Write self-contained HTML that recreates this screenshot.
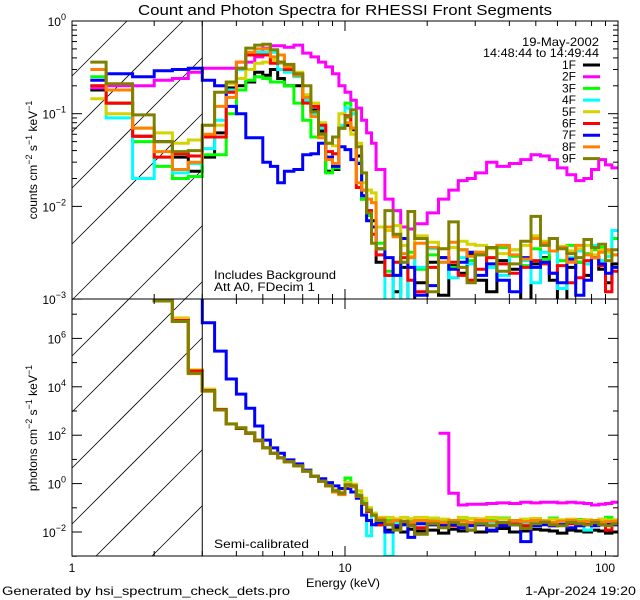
<!DOCTYPE html>
<html><head><meta charset="utf-8"><style>
html,body{margin:0;padding:0;background:#fff;}
svg{display:block;font-family:"Liberation Sans",sans-serif;}
</style></head><body>
<svg id="chart" width="640" height="600" viewBox="0 0 640 600" xmlns="http://www.w3.org/2000/svg">
<defs>
<clipPath id="clipTop"><rect x="72" y="21" width="546" height="278"/></clipPath>
<clipPath id="clipBot"><rect x="72" y="299" width="546" height="257"/></clipPath>
</defs>
<rect width="640" height="600" fill="#fff"/>
<text x="345" y="15" font-size="15" text-anchor="middle" textLength="414" lengthAdjust="spacingAndGlyphs">Count and Photon Spectra for RHESSI Front Segments</text>
<g id="hatch"></g>
<g id="series-top" clip-path="url(#clipTop)"></g>
<g id="series-bot" clip-path="url(#clipBot)"></g>
<g id="axes"></g>
<text x="599" y="46" font-size="12" text-anchor="end" textLength="77" lengthAdjust="spacingAndGlyphs">19-May-2002</text>
<text x="599" y="57" font-size="12" text-anchor="end" textLength="116" lengthAdjust="spacingAndGlyphs">14:48:44 to 14:49:44</text>
<g id="legend"></g>
<text x="214" y="279" font-size="12" textLength="122" lengthAdjust="spacingAndGlyphs">Includes Background</text>
<text x="214" y="291" font-size="12" textLength="101" lengthAdjust="spacingAndGlyphs">Att A0, FDecim 1</text>
<text x="214" y="548" font-size="12" textLength="95" lengthAdjust="spacingAndGlyphs">Semi-calibrated</text>
<text x="343" y="587" font-size="12" text-anchor="middle" textLength="74" lengthAdjust="spacingAndGlyphs">Energy (keV)</text>
<text x="2" y="595" font-size="12" textLength="288" lengthAdjust="spacingAndGlyphs">Generated by hsi_spectrum_check_dets.pro</text>
<text x="636" y="595" font-size="12" text-anchor="end" textLength="111" lengthAdjust="spacingAndGlyphs">1-Apr-2024 19:20</text>
<text transform="translate(37,160) rotate(-90)" font-size="12" text-anchor="middle">counts cm<tspan dy="-5" font-size="9">−2</tspan><tspan dy="5"> s</tspan><tspan dy="-5" font-size="9">−1</tspan><tspan dy="5"> keV</tspan><tspan dy="-5" font-size="9">−1</tspan></text>
<text transform="translate(37,428) rotate(-90)" font-size="12" text-anchor="middle">photons cm<tspan dy="-5" font-size="9">−2</tspan><tspan dy="5"> s</tspan><tspan dy="-5" font-size="9">−1</tspan><tspan dy="5"> keV</tspan><tspan dy="-5" font-size="9">−1</tspan></text>
</svg>
<script>
const edges = [1.167,1.333,1.667,2,2.333,2.667,3,3.33,3.67,4,4.33,4.67,5,5.33,5.67,6,6.5,7,7.5,8,8.5,9,9.5,10,10.5,11,11.5,12,12.5,13,14,15,16,17,18,20,22,24,26,28,30,33,36,40,44,48,52,56,60,65,70,75,80,85,90,95,100];
const detectors = ['1F','2F','3F','4F','5F','6F','7F','8F','9F'];
const colors = ['#000000','#ff00ff','#00ff00','#00ffff','#d4d400','#ff0000','#0000ff','#ff8000','#808000'];
const xTickLabels = ['1','10','100'];
const topTickLabels = ['0','-1','-2','-3'];
const botTickLabels = ['6','4','2','0','-2'];

const c1F = [0.18,0.13,0.057,0.05,0.034,0.024, 0.034,0.062,0.19,0.2,0.22,0.28,0.26,0.3,0.24,0.2,0.2,0.14,0.11,0.065,0.024,0.025,0.07,0.075,0.067,0.035,0.012,0.008,0.007, 0.0025,0.0018,0.0012,0.0022,0.0009,0.0015,0.0025,0.0011,0.0023,0.0019,0.003,0.0016,0.0012,0.0026,0.0021,0.0009,0.0024,0.0028,0.0016,0.0008,0.0022,0.0025,0.0018,0.0028,0.0021,0.0015,0.0024];
const c2F = [0.19,0.2,0.2,0.23,0.24,0.28, 0.31,0.31,0.31,0.36,0.36,0.41,0.51,0.54,0.54,0.52,0.55,0.45,0.41,0.36,0.32,0.27,0.2,0.17,0.14,0.115,0.085,0.062,0.048, 0.025,0.012,0.009,0.006,0.0057,0.0065,0.0085,0.012,0.015,0.019,0.02,0.023,0.03,0.027,0.029,0.032,0.036,0.035,0.032,0.026,0.022,0.019,0.02,0.025,0.032,0.028,0.026];
const c3F = [0.25,0.13,0.05,0.027,0.02,0.021, 0.036,0.036,0.1,0.18,0.23,0.25,0.24,0.22,0.22,0.2,0.13,0.085,0.056,0.06,0.023,0.026,0.07,0.13,0.1,0.03,0.012,0.008,0.006, 0.004,0.002,0.0009,0.0025,0.0032,0.0021,0.003,0.0028,0.0022,0.0034,0.0026,0.0031,0.0024,0.0036,0.0029,0.0023,0.0035,0.0027,0.0033,0.0026,0.0038,0.0025,0.0031,0.0034,0.0036,0.0029,0.0045];
const c4F = [0.2,0.09,0.02,0.034,0.023,0.029, 0.042,0.085,0.18,0.3,0.45,0.46,0.46,0.46,0.3,0.28,0.25,0.14,0.1,0.07,0.034,0.037,0.075,0.115,0.1,0.03,0.013,0.009,0.006, 0.003,0.0008,0.0025,0.0006,0.0028,0.0022,0.0035,0.0025,0.0017,0.0028,0.0024,0.003,0.0022,0.0018,0.0034,0.0026,0.0015,0.0032,0.0045,0.0013,0.0028,0.0033,0.0024,0.0038,0.0026,0.0029,0.0055];
const c5F = [0.145,0.1,0.07,0.062,0.048,0.052, 0.075,0.075,0.21,0.24,0.3,0.35,0.36,0.38,0.35,0.33,0.28,0.16,0.13,0.08,0.048,0.045,0.1,0.09,0.06,0.048,0.018,0.015,0.014, 0.006,0.0055,0.0062,0.0038,0.0029,0.0048,0.0041,0.0035,0.0036,0.0042,0.0039,0.0038,0.0035,0.0031,0.0034,0.0038,0.0048,0.0042,0.0045,0.0037,0.0033,0.0035,0.0038,0.003,0.0034,0.0032,0.003];
const c6F = [0.2,0.13,0.057,0.034,0.037,0.035, 0.056,0.056,0.17,0.31,0.43,0.43,0.43,0.35,0.36,0.3,0.26,0.13,0.12,0.075,0.039,0.037,0.07,0.095,0.07,0.016,0.015,0.009,0.005, 0.003,0.0018,0.0025,0.0028,0.0016,0.0012,0.0022,0.0028,0.0025,0.0018,0.0016,0.0021,0.0028,0.0024,0.0019,0.0022,0.0026,0.0024,0.0019,0.0023,0.0015,0.0017,0.0026,0.0028,0.0023,0.0012,0.002];
const c7F = [0.23,0.27,0.25,0.29,0.3,0.31, 0.23,0.2,0.12,0.1,0.055,0.055,0.03,0.027,0.018,0.024,0.025,0.036,0.037,0.048,0.034,0.027,0.044,0.041,0.032,0.029,0.013,0.007,0.006, 0.0035,0.0028,0.0018,0.0045,0.0022,0.0011,0.0014,0.0028,0.0021,0.0025,0.0032,0.0018,0.0024,0.0016,0.0012,0.0028,0.0022,0.0025,0.0019,0.0015,0.0027,0.0011,0.0016,0.0028,0.0024,0.0019,0.0022];
const c8F = [0.3,0.18,0.07,0.039,0.025,0.03, 0.06,0.12,0.15,0.36,0.46,0.5,0.5,0.41,0.43,0.32,0.26,0.15,0.093,0.055,0.032,0.029,0.07,0.08,0.07,0.018,0.015,0.012,0.011, 0.0035,0.006,0.0047,0.0031,0.0028,0.004,0.0036,0.0025,0.0041,0.0034,0.0029,0.0032,0.0036,0.0038,0.003,0.0027,0.0045,0.004,0.0033,0.0036,0.0025,0.0038,0.003,0.0028,0.0032,0.0034,0.003];
const c9F = [0.36,0.21,0.097,0.05,0.039,0.04, 0.075,0.17,0.22,0.31,0.51,0.55,0.56,0.49,0.36,0.34,0.27,0.2,0.105,0.06,0.048,0.056,0.07,0.093,0.11,0.044,0.023,0.0085,0.004, 0.0035,0.009,0.005,0.0025,0.0088,0.0045,0.0012,0.0035,0.0068,0.0022,0.0015,0.003,0.0036,0.002,0.0024,0.0042,0.0078,0.0038,0.0045,0.0035,0.0031,0.0028,0.0044,0.0036,0.0039,0.0026,0.0034];

const p1F = [1e9,1e9,1e9,3.5e7,6e6,4e4, 6.8e3,1.1e3,290,190,120,60,30,18,11.5,8,5.4,3.3,2.0,1.26,0.8,0.5,0.4,0.8,0.75,0.32,0.16,0.074,0.05, 0.02,0.012,0.015,0.01,0.013,0.011,0.012,0.009,0.013,0.011,0.012,0.01,0.011,0.014,0.01,0.011,0.013,0.012,0.011,0.009,0.012,0.011,0.01,0.012,0.011,0.009,0.01];
const p2F = [null,null,null,null,null,null, null,null,null,null,null,null,null,null,null,null,null,null,null,null,null,null,null,null,null,null,null,null,null, null,null,null,null,null,null,null,120,0.4,0.13,0.14,0.14,0.15,0.16,0.15,0.17,0.16,0.17,0.17,0.16,0.17,0.16,0.15,0.13,0.14,0.15,0.17];
const p3F = [1e9,1e9,1e9,3.5e7,5e6,3.6e4, 6.8e3,1.1e3,290,200,125,63,30,18,11.5,8,5.4,3.3,2.0,1.26,0.8,0.5,0.4,1.7,0.85,0.35,0.18,0.08,0.06, 0.035,0.03,0.032,0.028,0.03,0.025,0.03,0.032,0.028,0.03,0.035,0.027,0.03,0.038,0.03,0.028,0.033,0.03,0.038,0.03,0.027,0.033,0.03,0.028,0.03,0.04,0.03];
const p4F = [1e9,1e9,1e9,3.5e7,5e6,4e4, 6.8e3,1.1e3,290,200,125,63,30,18,11.5,8,5.4,3.3,2.0,1.26,0.8,0.5,0.4,0.9,0.8,0.32,0.16,0.007,0.05, 0.03,0.001,0.025,0.02,0.025,0.022,0.02,0.025,0.022,0.02,0.024,0.022,0.021,0.025,0.02,0.022,0.024,0.021,0.02,0.022,0.024,0.021,0.012,0.022,0.02,0.023,0.024];
const p5F = [1e9,1e9,1e9,3.5e7,7e6,5e4, 8e3,1.2e3,300,200,125,63,30,18,11.5,8,5.4,3.3,2.0,1.3,0.9,0.55,0.45,1.1,0.95,0.5,0.25,0.1,0.06, 0.04,0.04,0.035,0.04,0.035,0.04,0.038,0.034,0.03,0.04,0.036,0.035,0.04,0.035,0.03,0.034,0.036,0.03,0.034,0.032,0.034,0.03,0.032,0.03,0.034,0.03,0.032];
const p6F = [1e9,1e9,1e9,3.5e7,5.5e6,4.5e4, 7e3,1.15e3,290,195,120,60,30,18,11.5,8,5.4,3.3,2.0,1.26,0.8,0.5,0.4,0.85,0.8,0.3,0.14,0.07,0.05, 0.02,0.025,0.018,0.022,0.02,0.015,0.02,0.022,0.018,0.02,0.022,0.02,0.018,0.02,0.022,0.018,0.02,0.021,0.018,0.02,0.022,0.02,0.021,0.019,0.02,0.012,0.02];
const p7F = [1e9,1e9,1e9,1e9,1e9,5e7, 4.4e6,3e5,2.1e4,5e3,1.3e3,240,63,30,18,9.5,6.5,3.6,2.0,1.6,1.1,0.8,0.63,0.63,0.45,0.25,0.05,0.03,0.02, 0.025,0.01,0.018,0.02,0.006,0.022,0.02,0.018,0.02,0.015,0.018,0.02,0.012,0.018,0.02,0.004,0.018,0.02,0.018,0.02,0.015,0.018,0.02,0.018,0.02,0.022,0.02];
const p8F = [1e9,1e9,1e9,3.5e7,5e6,3.5e4, 6.5e3,1.1e3,290,200,125,63,30,18,11.5,8,5.4,3.3,2.0,1.26,0.8,0.45,0.35,0.8,0.75,0.3,0.15,0.08,0.05, 0.035,0.025,0.03,0.028,0.025,0.03,0.028,0.025,0.03,0.028,0.025,0.03,0.028,0.025,0.03,0.027,0.03,0.028,0.025,0.028,0.03,0.027,0.028,0.03,0.025,0.027,0.028];
const p9F = [1e9,1e9,1e9,3.5e7,5e6,3.6e4, 6.8e3,1.1e3,290,200,125,63,30,18,11.5,8,5.4,3.3,2.0,1.26,0.8,0.5,0.4,0.9,0.8,0.32,0.15,0.08,0.05, 0.03,0.02,0.012,0.028,0.018,0.008,0.022,0.015,0.025,0.02,0.012,0.022,0.018,0.025,0.02,0.014,0.022,0.025,0.02,0.018,0.025,0.022,0.02,0.025,0.02,0.018,0.022];

const countSeries = [c1F,c2F,c3F,c4F,c5F,c6F,c7F,c8F,c9F];
const photonSeries = [p1F,p2F,p3F,p4F,p5F,p6F,p7F,p8F,p9F];

const NS = 'http://www.w3.org/2000/svg';
const X0 = 72, X1 = 618;
const xS = e => X0 + (X1 - X0) / 2 * Math.log10(e);
const yTop = v => 21 + 92.7 * (-Math.log10(v));
const yBot = v => 532 - 24.2 * (Math.log10(v) + 2);

function el(tag, attrs, parent) {
  const n = document.createElementNS(NS, tag);
  for (const k in attrs) n.setAttribute(k, attrs[k]);
  parent.appendChild(n);
  return n;
}

function stepPath(vals, yf, lo, hi) {
  let d = '', open = false;
  for (let i = 0; i < vals.length; i++) {
    const v = vals[i];
    if (v === null || v === undefined) { open = false; continue; }
    let y = yf(v);
    y = Math.max(lo, Math.min(hi, y));
    const xa = xS(edges[i]).toFixed(1), xb = xS(edges[i + 1]).toFixed(1);
    d += (open ? 'L' : 'M') + xa + ' ' + y.toFixed(1) + 'L' + xb + ' ' + y.toFixed(1);
    open = true;
  }
  return d;
}

const hatch = document.getElementById('hatch');
const xv = xS(3);
[[21, 299], [299, 556]].forEach(([t, b]) => {
  for (let c = -600; c < 700; c += 56) {
    let pts = [];
    for (const x of [72, xv]) { const y = c + 300 - x; if (y >= t && y <= b) pts.push([x, y]); }
    for (const y of [t, b]) { const x = c + 300 - y; if (x >= 72 && x <= xv) pts.push([x, y]); }
    if (pts.length >= 2) {
      const h = el('line', {x1: pts[0][0], y1: pts[0][1], x2: pts[1][0], y2: pts[1][1], stroke: '#000', 'stroke-width': 0.8}, hatch);
      
      
    }
  }
});

const gTop = document.getElementById('series-top');
const gBot = document.getElementById('series-bot');
countSeries.forEach((s, k) => {
  const p = el('path', {d: stepPath(s, yTop, 15, 305), fill: 'none', stroke: colors[k], 'stroke-width': 3, 'stroke-linejoin': 'miter'}, gTop);
  
  
});
photonSeries.forEach((s, k) => {
  const p = el('path', {d: stepPath(s, yBot, 293, 562), fill: 'none', stroke: colors[k], 'stroke-width': 3, 'stroke-linejoin': 'miter'}, gBot);
  
  
});

const ax = document.getElementById('axes');
const frame = el('rect', {x: 72, y: 21, width: X1 - 72, height: 535, fill: 'none', stroke: '#000', 'stroke-width': 1}, ax);


const mid = el('line', {x1: 72, y1: 299, x2: X1, y2: 299, stroke: '#000'}, ax);


const vline = el('line', {x1: xv, y1: 21, x2: xv, y2: 556, stroke: '#000'}, ax);



for (let dec = 1; dec <= 100; dec *= 10) {
  for (let m = 1; m <= 9; m++) {
    const e = dec * m; if (e > 100) break;
    const x = xS(e), L = m === 1 ? 10 : 5;
    [[21, 1], [299, -1], [299, 1], [556, -1]].forEach(([y, dir]) => {
      const t = el('line', {x1: x, y1: y, x2: x, y2: y + dir * L, stroke: '#000'}, ax);
      
      
    });
  }
}
xTickLabels.forEach((lab, i) => {
  const x = xS(Math.pow(10, i));
  const t = el('text', {x: i === 2 ? x - 13 : x, y: 572, 'font-size': 12, 'text-anchor': 'middle'}, ax);
  t.textContent = lab;
  
  
});
for (let p = 0; p >= -3; p--) {
  for (let m = 1; m <= 9; m++) {
    const v = Math.pow(10, p) * m; if (v > 1.0001) break;
    if (p === -3 && m > 1) break;
    const y = yTop(v), L = m === 1 ? 10 : 5;
    [[72, 1], [X1, -1]].forEach(([x, dir]) => {
      const t = el('line', {x1: x, y1: y, x2: x + dir * L, y2: y, stroke: '#000'}, ax);
      
      
    });
  }
}
topTickLabels.forEach((lab, i) => {
  const y = yTop(Math.pow(10, -i));
  const t = el('text', {x: 66, y: y + 5, 'font-size': 12, 'text-anchor': 'end'}, ax);
  t.innerHTML = '10<tspan dy="-6" font-size="9">' + lab.replace('-', '−') + '</tspan>';
  
  
});
for (let p = -3; p <= 7; p++) {
  const y = yBot(Math.pow(10, p)); if (y < 300) continue;
  const L = p % 2 === 0 ? 10 : 5;
  [[72, 1], [X1, -1]].forEach(([x, dir]) => {
    const t = el('line', {x1: x, y1: y, x2: x + dir * L, y2: y, stroke: '#000'}, ax);
    
    
  });
}
botTickLabels.forEach(lab => {
  const y = yBot(Math.pow(10, +lab));
  const t = el('text', {x: 66, y: y + 5, 'font-size': 12, 'text-anchor': 'end'}, ax);
  t.innerHTML = '10<tspan dy="-6" font-size="9">' + lab.replace('-', '−') + '</tspan>';
  
  
});

const lg = document.getElementById('legend');
detectors.forEach((d, k) => {
  const y = 65 + k * 11.7;
  const t = el('text', {x: 576, y: y + 4, 'font-size': 12, 'text-anchor': 'end'}, lg);
  t.textContent = d;
  
  
  const l = el('line', {x1: 583, y1: y, x2: 600, y2: y, stroke: colors[k], 'stroke-width': 3}, lg);
  
  
});
</script>
</body></html>
